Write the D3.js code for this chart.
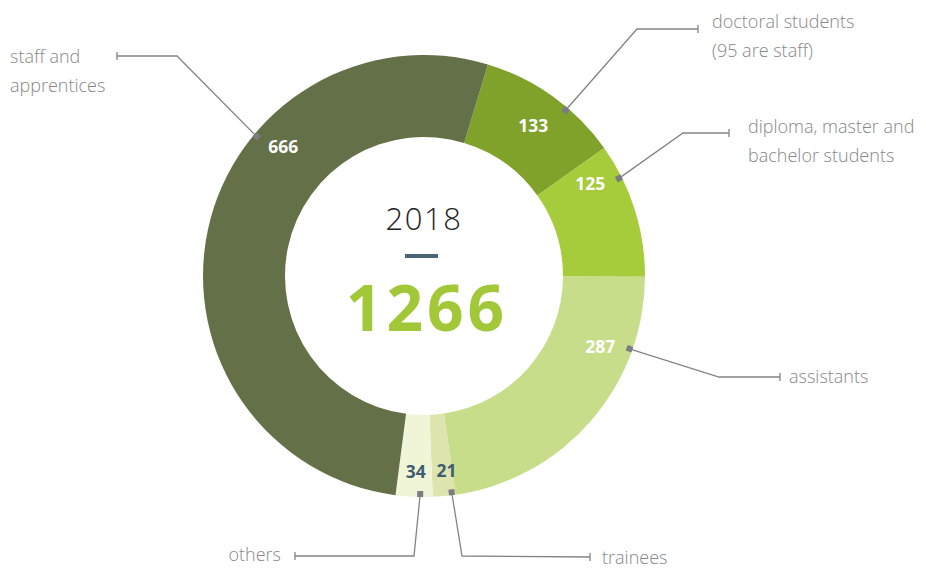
<!DOCTYPE html>
<html>
<head>
<meta charset="utf-8">
<style>
    body { margin: 0; background: #fff; }
    svg text { font-family: 'Open Sans', sans-serif; }
</style>
</head>
<body>
<div id="chart"></div>
<script src="https://cdnjs.cloudflare.com/ajax/libs/d3/7.8.5/d3.min.js"></script>
<script>
    // data
    var categories = ['doctoral', 'diploma', 'assistants', 'trainees', 'others', 'staff'];
    var values = [133, 125, 287, 21, 34, 666];
    var names = [
        ['doctoral students', '(95 are staff)'],
        ['diploma, master and', 'bachelor students'],
        ['assistants'],
        ['trainees'],
        ['others'],
        ['staff and', 'apprentices']
    ];
    var year = '2018';
    var total = 1266;

    var colors = ['#80a22b', '#a6cb3b', '#c7dd8a', '#dde4ae', '#f1f5d7', '#647048'];
    var value_colors = ['#fff', '#fff', '#fff', '#3f5d70', '#3f5d70', '#fff'];

    // label layout: angle (deg) + radius of number label, angle of leader dot, elbow, end
    var layout = {
        doctoral:   {num: 36,    nr: 186, dot: 40.5,  elbow: [637, 29],  end: [698, 29],  tx: 712, ty: 28,  anchor: 'start'},
        diploma:    {num: 61,    nr: 190, dot: 63.4,  elbow: [683, 133], end: [729, 133], tx: 748, ty: 133, anchor: 'start'},
        assistants: {num: 112,   nr: 190, dot: 109.5, elbow: [719, 377], end: [780, 377], tx: 789, ty: 383, anchor: 'start'},
        trainees:   {num: 173.4, nr: 196, dot: 172.7, elbow: [462, 556], end: [590, 557], tx: 602, ty: 564, anchor: 'start'},
        others:     {num: 182.4, nr: 196, dot: 181,   elbow: [414, 556], end: [295, 556], tx: 281, ty: 561, anchor: 'end'},
        staff:      {num: 312.5, nr: 191, dot: 309.8, elbow: [177, 56],  end: [117, 56],  tx: 10,  ty: 63,  anchor: 'start'}
    };

    var width = 926, height = 569;
    var cx = 424, cy = 276,
        outer_r = 221, inner_r = 139,
        dot_r = 218;

    var svg = d3.select('#chart').append('svg')
        .attr('width', width)
        .attr('height', height);

    var start = 16.8 * Math.PI / 180;
    var pie = d3.pie().sort(null).startAngle(start).endAngle(start + 2 * Math.PI);
    var arc = d3.arc().innerRadius(inner_r).outerRadius(outer_r);

    var g = svg.append('g').attr('transform', 'translate(' + cx + ',' + cy + ')');

    g.selectAll('path.slice')
        .data(pie(values))
        .enter().append('path')
        .attr('class', 'slice')
        .attr('d', arc)
        .attr('fill', function(d, i){ return colors[i]; });

    function polar(r, deg){
        var a = deg * Math.PI / 180;
        return [cx + r * Math.sin(a), cy - r * Math.cos(a)];
    }

    // leader lines and labels
    categories.forEach(function(c, i){
        var l = layout[c];
        var p = polar(dot_r, l.dot);
        svg.append('polyline')
            .attr('points', [p, l.elbow, l.end].map(function(q){ return q.join(','); }).join(' '))
            .attr('fill', 'none')
            .attr('stroke', '#848484')
            .attr('stroke-width', 1.3);
        svg.append('line')
            .attr('x1', l.end[0]).attr('x2', l.end[0])
            .attr('y1', l.end[1] - 4).attr('y2', l.end[1] + 4)
            .attr('stroke', '#848484')
            .attr('stroke-width', 1.3);
        svg.append('rect')
            .attr('x', p[0] - 3).attr('y', p[1] - 3)
            .attr('width', 6).attr('height', 6)
            .attr('fill', '#7c7c80')
            .attr('transform', 'rotate(' + (l.dot) + ',' + p[0] + ',' + p[1] + ')');

        var t = svg.append('text')
            .attr('x', l.tx).attr('y', l.ty)
            .attr('text-anchor', l.anchor)
            .attr('fill', '#878787')
            .attr('font-size', 18)
            .attr('font-weight', 300);
        names[i].forEach(function(s, k){
            t.append('tspan').attr('x', l.tx).attr('dy', k == 0 ? 0 : 29).text(s);
        });

        var n = polar(l.nr, l.num);
        svg.append('text')
            .attr('x', n[0]).attr('y', n[1] + 6)
            .attr('text-anchor', 'middle')
            .attr('fill', value_colors[i])
            .attr('font-size', 17.5)
            .attr('font-weight', 700)
            .text(values[i]);
    });

    // centre
    svg.append('text')
        .attr('x', cx).attr('y', 230)
        .attr('text-anchor', 'middle')
        .attr('fill', '#222')
        .attr('font-size', 31)
        .attr('font-weight', 300)
        .attr('letter-spacing', 1.5)
        .text(year);

    svg.append('line')
        .attr('x1', 405).attr('x2', 438)
        .attr('y1', 256).attr('y2', 256)
        .attr('stroke', '#4a6473')
        .attr('stroke-width', 4);

    svg.append('text')
        .attr('x', cx + 3).attr('y', 331)
        .attr('text-anchor', 'middle')
        .attr('fill', '#a2c83a')
        .attr('font-size', 64)
        .attr('font-weight', 700)
        .attr('letter-spacing', 4)
        .text(total);
</script>
</body>
</html>
